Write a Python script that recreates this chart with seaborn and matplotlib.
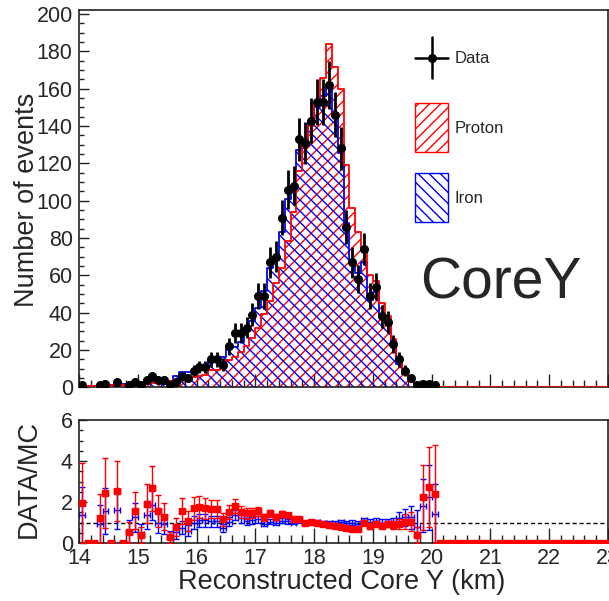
import numpy as np
import pandas as pd
import matplotlib
matplotlib.use("Agg")
import matplotlib.pyplot as plt
from matplotlib.ticker import MultipleLocator
from matplotlib.patches import Rectangle
from matplotlib.lines import Line2D
import seaborn as sns

# ---------------- data (bins of 0.1 km from 14 to 23 km) ----------------
x_start = 14.0
x_stop = 23.0
bin_width = 0.1

data_counts = [1, 0, 0, 1, 2, 0, 3, 0, 1, 3,
               1, 4, 6, 4, 4, 1, 3, 6, 5, 9,
               11, 11, 15, 15, 12, 22, 29, 29, 32, 39,
               49, 49, 67, 70, 91, 106, 108, 133, 131, 143,
               153, 153, 162, 146, 128, 86, 67, 58, 74, 49,
               54, 38, 35, 23, 15, 9, 5, 1, 2, 2,
               1, 0, 0, 0, 0, 0, 0, 0, 0, 0,
               0, 0, 0, 0, 0, 0, 0, 0, 0, 0,
               0, 0, 0, 0, 0, 0, 0, 0, 0, 0]

proton_mc = [0.51, 0.6, 0.7, 0.83, 0.82, 1.0, 1.18, 1.3, 1.92, 1.92,
             2.5, 2.1, 2.24, 2.56, 3.1, 3.6, 3.85, 3.85, 4.6, 5.3,
             6.2, 6.5, 9.1, 9.1, 10.4, 14.5, 16.1, 19.1, 22.1, 26.5,
             31.6, 39.2, 46.2, 56.0, 64.0, 78.5, 94.0, 115.7, 131.0, 140.0,
             153.0, 166.0, 184.0, 171.6, 160.0, 119.0, 96.0, 83.0, 74.0, 60.0,
             57.0, 45.0, 38.0, 26.0, 16.0, 8.6, 4.8, 2.5, 0.9, 0.73,
             0.42, 0, 0, 0, 0, 0, 0, 0, 0, 0,
             0, 0, 0, 0, 0, 0, 0, 0, 0, 0,
             0, 0, 0, 0, 0, 0, 0, 0, 0, 0]

iron_mc = [0.73, 0.5, 0.6, 1.08, 1.28, 1.2, 1.84, 1.7, 1.8, 2.4,
           2.2, 2.9, 3.2, 4.1, 4.4, 3.3, 5.8, 8.0, 8.3, 9.0,
           10.0, 10.0, 14.3, 14.3, 16.4, 21.2, 21.5, 24.2, 30.5, 35.5,
           42.6, 51.6, 64.0, 70.0, 83.0, 101.0, 108.0, 127.0, 131.0, 143.0,
           150.0, 156.0, 162.0, 146.0, 125.5, 88.0, 68.0, 61.0, 67.0, 47.0,
           51.0, 38.0, 35.0, 23.0, 12.5, 7.2, 4.0, 1.25, 1.1, 0.9,
           0.7, 0, 0, 0, 0, 0, 0, 0, 0, 0,
           0, 0, 0, 0, 0, 0, 0, 0, 0, 0,
           0, 0, 0, 0, 0, 0, 0, 0, 0, 0]

x_tick_values = [14, 15, 16, 17, 18, 19, 20, 21, 22, 23]
x_tick_labels = ["14", "15", "16", "17", "18", "19", "20", "21", "22", "23"]
top_y_ticks = [0, 20, 40, 60, 80, 100, 120, 140, 160, 180, 200]
ratio_y_ticks = [0, 2, 4, 6]

legend_labels = ["Data", "Proton", "Iron"]
tag_text = "CoreY"
x_title = "Reconstructed Core Y (km)"
y_title_top = "Number of events"
y_title_bottom = "DATA/MC"

# ---------------- styling ----------------
sns.set_theme(style="ticks")
plt.rcParams["font.family"] = ["Liberation Sans", "DejaVu Sans"]
plt.rcParams["hatch.linewidth"] = 1.0
plt.rcParams["axes.linewidth"] = 1.2
plt.rcParams["axes.edgecolor"] = "#222222"

RED = "#ff0000"
BLUE = "#0000ff"

n_bins = len(data_counts)
edges = np.linspace(x_start, x_stop, n_bins + 1)
centers = edges[:-1] + bin_width / 2

data_arr = np.array(data_counts, dtype=float)
prot_arr = np.array(proton_mc, dtype=float)
iron_arr = np.array(iron_mc, dtype=float)

df = pd.DataFrame({"core_y": centers, "data": data_arr,
                   "proton": prot_arr, "iron": iron_arr})

W, H = 609, 601
fig = plt.figure(figsize=(W / 100, H / 100), dpi=100)
ax_top = fig.add_axes([79 / W, 1 - 387.3 / H, 529 / W, (387.3 - 9.5) / H])
ax_bot = fig.add_axes([79 / W, 1 - 543 / H, 529 / W, 123 / H])

# ---------------- top panel ----------------
ax_top.stairs(prot_arr, edges, fill=True, facecolor="none", edgecolor=RED,
              hatch="///", linewidth=0, zorder=1)
ax_top.stairs(iron_arr, edges, fill=True, facecolor="none", edgecolor=BLUE,
              hatch="\\\\\\", linewidth=0, zorder=1)
sns.histplot(data=df, x="core_y", weights="proton", bins=n_bins,
             binrange=(x_start, x_stop), element="step",
             fill=False, color=RED, linewidth=1.3, ax=ax_top, zorder=3)
sns.histplot(data=df, x="core_y", weights="iron", bins=n_bins,
             binrange=(x_start, x_stop), element="step",
             fill=False, color=BLUE, linewidth=1.3, ax=ax_top, zorder=2)

nz = data_arr > 0
ax_top.errorbar(centers[nz], data_arr[nz], yerr=np.sqrt(data_arr[nz]),
                xerr=bin_width / 2, fmt="o", color="black", ms=5.5,
                elinewidth=2.0, capsize=0, zorder=5)

ax_top.set_xlim(x_start, x_stop)
ax_top.set_ylim(0, 202.5)
ax_top.set_xticks(x_tick_values)
ax_top.set_yticks(top_y_ticks)
ax_top.xaxis.set_minor_locator(MultipleLocator(0.2))
ax_top.yaxis.set_minor_locator(MultipleLocator(5))
ax_top.tick_params(axis="x", which="major", direction="in", length=9.5, width=1.0,
                   labelbottom=False, top=False, color="#222222")
ax_top.tick_params(axis="x", which="minor", direction="in", length=4.7, width=1.0,
                   top=False, color="#222222")
ax_top.tick_params(axis="y", which="major", direction="in", length=7.5, width=1.0,
                   labelsize=15.5, pad=4.5, right=False, color="#222222")
ax_top.tick_params(axis="y", which="minor", direction="in", length=3.8, width=1.0,
                   right=False, color="#222222")
ax_top.set_xlabel("")
ax_top.set_ylabel(y_title_top, fontsize=19.5)
ax_top.yaxis.set_label_coords(-0.074, 0.496)
for s in ax_top.spines.values():
    s.set_visible(True)

# legend (manual, ROOT-like)
tr = ax_top.transAxes
ax_top.add_line(Line2D([0.636, 0.697], [0.871, 0.871], transform=tr, color="black", lw=1.8))
ax_top.add_line(Line2D([0.6665, 0.6665], [0.819, 0.927], transform=tr, color="black", lw=1.8))
ax_top.add_line(Line2D([0.6665], [0.871], transform=tr, color="black", marker="o", ms=5.5))
ax_top.text(0.710, 0.871, legend_labels[0], transform=tr, fontsize=12, va="center", ha="left")
ax_top.add_patch(Rectangle((0.636, 0.6236), 0.0606, 0.1297, transform=tr, facecolor="none",
                           edgecolor=RED, hatch="///", linewidth=1.0))
ax_top.text(0.710, 0.6863, legend_labels[1], transform=tr, fontsize=12, va="center", ha="left")
ax_top.add_patch(Rectangle((0.636, 0.4383), 0.0606, 0.1297, transform=tr, facecolor="none",
                           edgecolor=BLUE, hatch="\\\\\\", linewidth=1.0))
ax_top.text(0.710, 0.501, legend_labels[2], transform=tr, fontsize=12, va="center", ha="left")
ax_top.text(0.644, 0.276, tag_text, transform=tr, fontsize=41, va="center", ha="left")

# ---------------- ratio panel ----------------
def ratio_and_err(num, den):
    r = np.zeros_like(num)
    e = np.zeros_like(num)
    ok = den > 0
    r[ok] = num[ok] / den[ok]
    e[ok] = np.sqrt(num[ok]) / den[ok]
    return r, e

r_iron, e_iron = ratio_and_err(data_arr, iron_arr)
r_prot, e_prot = ratio_and_err(data_arr, prot_arr)

ax_bot.axhline(1.0, color="black", lw=1.0, ls=(0, (3, 2)), zorder=1)
ax_bot.errorbar(centers, r_iron, yerr=e_iron, xerr=bin_width / 2, fmt="none",
                ecolor=BLUE, elinewidth=1.0, capsize=2, capthick=1.0, zorder=2)
ax_bot.errorbar(centers, r_prot, yerr=e_prot, xerr=bin_width / 2, fmt="s",
                color=RED, ms=4.3, elinewidth=1.0, capsize=2, capthick=1.0, zorder=3)

ax_bot.set_xlim(x_start, x_stop)
ax_bot.set_ylim(0, 6)
ax_bot.set_xticks(x_tick_values)
ax_bot.set_xticklabels(x_tick_labels)
ax_bot.set_yticks(ratio_y_ticks)
ax_bot.xaxis.set_minor_locator(MultipleLocator(0.2))
ax_bot.yaxis.set_minor_locator(MultipleLocator(0.5))
ax_bot.tick_params(axis="x", which="major", direction="in", length=11, width=1.0,
                   labelsize=15.5, pad=3.4, top=False, color="#222222")
ax_bot.tick_params(axis="x", which="minor", direction="in", length=5.8, width=1.0,
                   top=False, color="#222222")
ax_bot.tick_params(axis="y", which="major", direction="in", length=6, width=1.0,
                   labelsize=15.5, pad=4.5, right=False, color="#222222")
ax_bot.tick_params(axis="y", which="minor", direction="in", length=3, width=1.0,
                   right=False, color="#222222")
ax_bot.set_xlabel(x_title, fontsize=19.5)
ax_bot.xaxis.set_label_coords(0.496, -0.212)
ax_bot.set_ylabel(y_title_bottom, fontsize=19.5)
ax_bot.yaxis.set_label_coords(-0.071, 0.524)

fig.savefig("out.png", dpi=100)
